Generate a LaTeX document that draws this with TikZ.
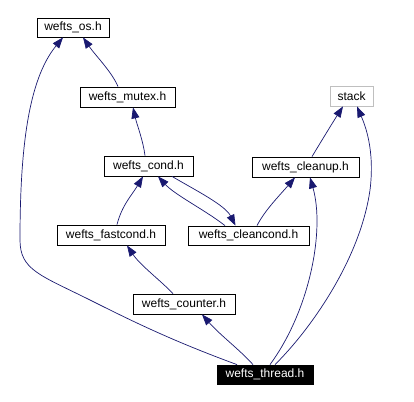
\documentclass[tikz,border=0pt]{standalone}
\usepackage{fontspec}
\setmainfont{Liberation Sans}
\usetikzlibrary{arrows.meta}
\definecolor{edgeblue}{HTML}{191970}
\definecolor{stackgray}{HTML}{BFBFBF}
\begin{document}
\begin{tikzpicture}[x=1pt,y=-1pt,
  box/.style={draw=black,line width=0.8pt,inner sep=0pt,font=\fontsize{12}{12}\selectfont,text=black},
  extbox/.style={box,draw=stackgray},
  mainbox/.style={box,fill=black,text=white},
  edge/.style={draw=edgeblue,line width=0.7pt,-{Triangle[length=11pt,width=8pt]}}]
\useasboundingbox (0,0) rectangle (414,401);
\node[box,minimum width=72pt,minimum height=19pt] (os) at (73,27.5) {wefts\_os.h};
\node[box,minimum width=95pt,minimum height=20pt] (mutex) at (127.5,97) {wefts\_mutex.h};
\node[extbox,minimum width=43pt,minimum height=20pt] (stack) at (351.5,96) {stack};
\node[box,minimum width=107pt,minimum height=20pt] (cleanup) at (305.5,167) {wefts\_cleanup.h};
\node[box,minimum width=89pt,minimum height=20pt] (cond) at (148.5,166) {wefts\_cond.h};
\node[box,minimum width=121pt,minimum height=19pt] (cleancond) at (248.5,235.5) {wefts\_cleancond.h};
\node[box,minimum width=108pt,minimum height=20pt] (fastcond) at (111,235) {wefts\_fastcond.h};
\node[box,minimum width=102pt,minimum height=20pt] (counter) at (184,304) {wefts\_counter.h};
\node[mainbox,minimum width=96pt,minimum height=19pt] (thread) at (265,374.5) {wefts\_thread.h};
% edges
\draw[edge] ([xshift=-9.5pt]mutex.north) .. controls (112,72) and (95,55) .. ([xshift=10pt]os.south);
\draw[edge] ([xshift=-3.5pt]cond.north) .. controls (143,140) and (137,125) .. ([xshift=5.5pt]mutex.south);
\draw[edge] ([xshift=6pt]fastcond.north) .. controls (122,205) and (132,195) .. ([xshift=-5.5pt]cond.south);
\draw[edge] ([xshift=23.5pt]cond.south) .. controls (195,190) and (225,205) .. ([xshift=-13pt]cleancond.north);
\draw[edge] ([xshift=-23.5pt]cleancond.north) .. controls (205,210) and (175,195) .. ([xshift=9.5pt]cond.south);
\draw[edge] ([xshift=8.5pt]cleancond.north) .. controls (265,210) and (280,195) .. ([xshift=-10.5pt]cleanup.south);
\draw[edge] ([xshift=6.5pt]cleanup.north) .. controls (322,140) and (333,122) .. ([xshift=-8.5pt]stack.south);
\draw[edge] ([xshift=-11pt]counter.north) .. controls (160,280) and (140,265) .. ([xshift=16pt]fastcond.south);
\draw[edge] ([xshift=-12pt]thread.north) .. controls (240,350) and (220,335) .. ([xshift=18pt]counter.south);
\draw[edge] ([xshift=5pt]thread.north) .. controls (310,310) and (325,230) .. ([xshift=4.5pt]cleanup.south);
\draw[edge] ([xshift=10pt]thread.north) .. controls (310,330) and (360,260) .. (370,190) .. controls (375,150) and (365,125) .. ([xshift=5.5pt]stack.south);
\draw[edge] ([xshift=-28pt]thread.north) .. controls (170,340) and (130,320) .. (90,300) .. controls (40,275) and (20,270) .. (20,240) .. controls (20,150) and (28,80) .. ([xshift=-10pt]os.south);
\end{tikzpicture}
\end{document}
